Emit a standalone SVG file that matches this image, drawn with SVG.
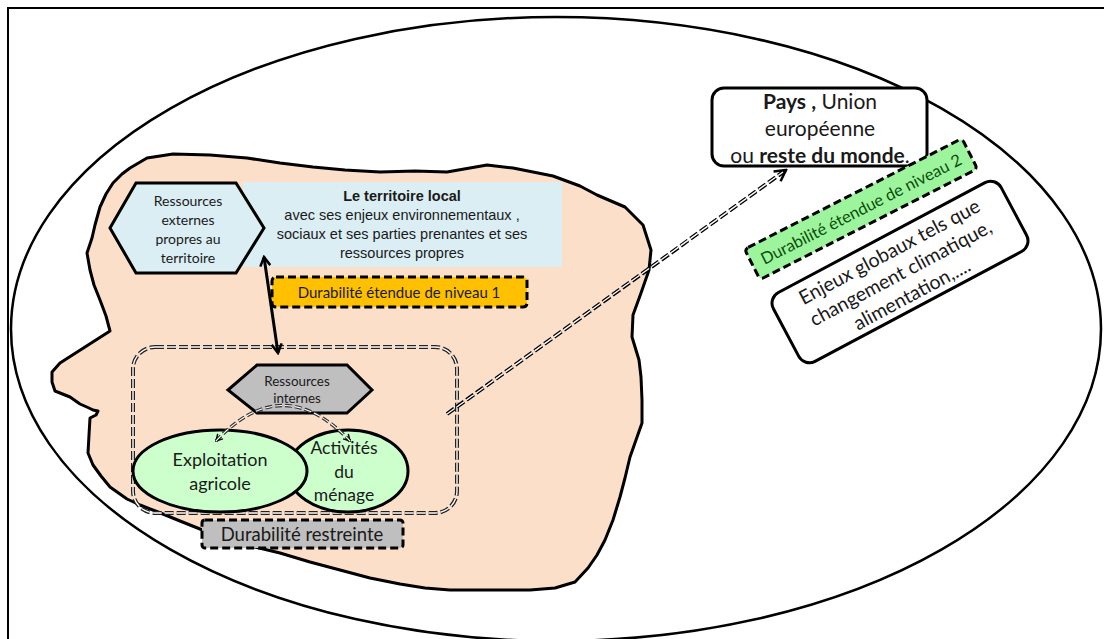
<svg xmlns="http://www.w3.org/2000/svg" width="1104" height="639" viewBox="0 0 1104 639">
<style>
.cal{font-family:Lato,"Open Sans","Noto Sans",sans-serif;fill:#1a1a1a}
.ari{font-family:"Liberation Sans",Arial,sans-serif;fill:#1a1a1a}
.b{font-weight:bold}
.dbl-out{fill:none;stroke:#222;stroke-width:4;stroke-dasharray:9 3}
.dbl-in{fill:none;stroke:#fff;stroke-width:1.4;stroke-dasharray:9 3}
.dashbox{stroke:#000;stroke-width:3;stroke-dasharray:8 4}
</style>
<defs>
<marker id="vhead" viewBox="0 0 12 12" refX="10" refY="6" markerWidth="12" markerHeight="12" markerUnits="userSpaceOnUse" orient="auto-start-reverse">
<path d="M1,1 L10,6 L1,11" fill="none" stroke="#000" stroke-width="2.5" stroke-linejoin="miter"/>
</marker>
<marker id="vsmall" viewBox="0 0 10 10" refX="8" refY="5" markerWidth="9" markerHeight="9" markerUnits="userSpaceOnUse" orient="auto-start-reverse">
<path d="M1,1 L8,5 L1,9" fill="none" stroke="#000" stroke-width="1.6"/>
</marker>
<marker id="vlong" viewBox="0 0 14 14" refX="12" refY="7" markerWidth="14" markerHeight="14" markerUnits="userSpaceOnUse" orient="auto">
<path d="M1,1 L12,7 L1,13" fill="none" stroke="#000" stroke-width="2.5"/>
</marker>
</defs>
<rect x="0" y="0" width="1104" height="639" fill="#fff"/>
<g id="frame">
<rect x="8" y="8" width="1120" height="660" fill="none" stroke="#000" stroke-width="2"/>
</g>
<g id="world">
<ellipse cx="556" cy="329" rx="545" ry="312" fill="#fff" stroke="#000" stroke-width="2.5"/>
</g>
<g id="territoire">
<path d="M113,183 L122,174 L130,168 L147,158 L173,154 L210,155 L247,158 L280,163 L313,167 L345,170 L380,172 L415,171 L447,172 L487,165 L513,168 L553,176 L580,186 L597,195 L625,207 L643,225 L651,250 L649,270 L641,293 L633,315 L632,337 L639,360 L641,377 L642,400 L642,423 L636,440 L630,457 L625,478 L620,497 L613,520 L605,540 L597,555 L588,568 L575,582 L555,588 L530,590 L490,590 L450,590 L425,588 L400,584 L370,578 L340,570 L310,562 L280,553 L255,547 L230,540 L205,531 L180,521 L158,512 L140,505 L127,499 L110,487 L101,476 L93,465 L88,453 L89,435 L90,418 L96,415 L98,411 L93,410 L89,408 L80,404 L70,397 L55,391 L52,382 L52,372 L60,363 L85,347 L110,331 L106,316 L100,300 L94,285 L90,270 L87,253 L92,238 L95,225 L100,207 L106,194 Z" fill="#FBDFC8" stroke="#000" stroke-width="3" stroke-linejoin="round"/>
</g>
<g id="territoire-local">
<rect x="243" y="182" width="319" height="85" fill="#DAEEF3"/>
<text class="ari b" x="402" y="201" font-size="14.5" text-anchor="middle">Le territoire local</text>
<text class="ari" x="402" y="220" font-size="14.5" text-anchor="middle">avec ses enjeux environnementaux ,</text>
<text class="ari" x="402" y="239" font-size="14.5" text-anchor="middle">sociaux et ses parties prenantes  et ses</text>
<text class="ari" x="402" y="258" font-size="14.5" text-anchor="middle">ressources propres</text>
</g>
<g id="ressources-externes">
<polygon points="110,228 136,183 236,183 264,228 236,273 136,273" fill="#DAEEF3" stroke="#000" stroke-width="3" stroke-linejoin="miter"/>
<text class="cal" x="188" y="206" font-size="14" text-anchor="middle">Ressources</text>
<text class="cal" x="188" y="225" font-size="14" text-anchor="middle">externes</text>
<text class="cal" x="188" y="244" font-size="14" text-anchor="middle">propres au</text>
<text class="cal" x="188" y="263" font-size="14" text-anchor="middle">territoire</text>
</g>
<g id="durabilite-1">
<rect x="272" y="277" width="255" height="30" rx="4" fill="#FFC000" class="dashbox"/>
<text class="cal" x="399" y="298" font-size="15" text-anchor="middle">Durabilité étendue de niveau 1</text>
</g>
<g id="exploitation-menage">
<rect x="133" y="347" width="324" height="166" rx="22" class="dbl-out" stroke="#666"/>
<rect x="133" y="347" width="324" height="166" rx="22" class="dbl-in"/>
</g>
<g id="ressources-internes">
<polygon points="228,390 257,365 347,365 372,390 347,413 257,413" fill="#BFBFBF" stroke="#000" stroke-width="3"/>
<text class="cal" x="297" y="386" font-size="13.4" text-anchor="middle">Ressources</text>
<text class="cal" x="297" y="403" font-size="13.4" text-anchor="middle">internes</text>
</g>
<g id="activites-menage">
<ellipse cx="348" cy="471" rx="60" ry="41" fill="#CCFFCC" stroke="#000" stroke-width="3"/>
<text class="cal" x="344" y="454" font-size="17.5" text-anchor="middle">Activités</text>
<text class="cal" x="344" y="478" font-size="17.5" text-anchor="middle">du</text>
<text class="cal" x="344" y="501" font-size="17.5" text-anchor="middle">ménage</text>
</g>
<g id="exploitation-agricole">
<ellipse cx="220" cy="471" rx="87" ry="41" fill="#CCFFCC" stroke="#000" stroke-width="3"/>
<text class="cal" x="220" y="466" font-size="18" text-anchor="middle">Exploitation</text>
<text class="cal" x="220" y="490" font-size="18" text-anchor="middle">agricole</text>
</g>
<g id="durabilite-restreinte">
<rect x="202" y="520" width="201" height="28" rx="3" fill="#BFBFBF" class="dashbox"/>
<text class="cal" x="302" y="541" font-size="18.5" text-anchor="middle">Durabilité restreinte</text>
</g>
<g id="pays">
<rect x="712" y="88" width="215" height="78" rx="12" fill="#fff" stroke="#000" stroke-width="3"/>
<text class="cal" x="820" y="109" font-size="21" text-anchor="middle"><tspan font-weight="bold">Pays ,</tspan> Union</text>
<text class="cal" x="820" y="136" font-size="21" text-anchor="middle">européenne</text>
<text class="cal" x="820" y="163" font-size="21" text-anchor="middle">ou <tspan font-weight="bold">reste du monde</tspan>.</text>
</g>
<g id="durabilite-2" transform="translate(861,209) rotate(-27)">
<rect x="-122" y="-17" width="244" height="34" rx="4" fill="#9CF59C" class="dashbox"/>
<text class="cal" x="0" y="6" font-size="16.5" text-anchor="middle" style="fill:#0d4d0d">Durabilité étendue de niveau 2</text>
</g>
<g id="enjeux-globaux" transform="translate(900,272) rotate(-28)">
<rect x="-129" y="-39" width="258" height="78" rx="12" fill="#fff" stroke="#000" stroke-width="3"/>
<text class="cal" x="0" y="-16" font-size="19.5" text-anchor="middle">Enjeux globaux tels que</text>
<text class="cal" x="0" y="8" font-size="19.5" text-anchor="middle">changement climatique,</text>
<text class="cal" x="0" y="32" font-size="19.5" text-anchor="middle">alimentation,....</text>
</g>
<g id="connectors">
<line x1="264" y1="257" x2="278" y2="353" stroke="#000" stroke-width="3" marker-start="url(#vhead)" marker-end="url(#vhead)"/>
<path d="M216,441 Q283,370 350,441" class="dbl-out" style="stroke:#333;stroke-width:3.4;stroke-dasharray:7 3" marker-start="url(#vsmall)" marker-end="url(#vsmall)"/>
<path d="M216,441 Q283,370 350,441" class="dbl-in" style="stroke-width:1.1;stroke-dasharray:7 3"/>
<line x1="447" y1="414" x2="786" y2="170" class="dbl-out" style="stroke:#000;stroke-width:4" marker-end="url(#vlong)"/>
<line x1="447" y1="414" x2="783" y2="172" class="dbl-in"/>
</g>
</svg>
